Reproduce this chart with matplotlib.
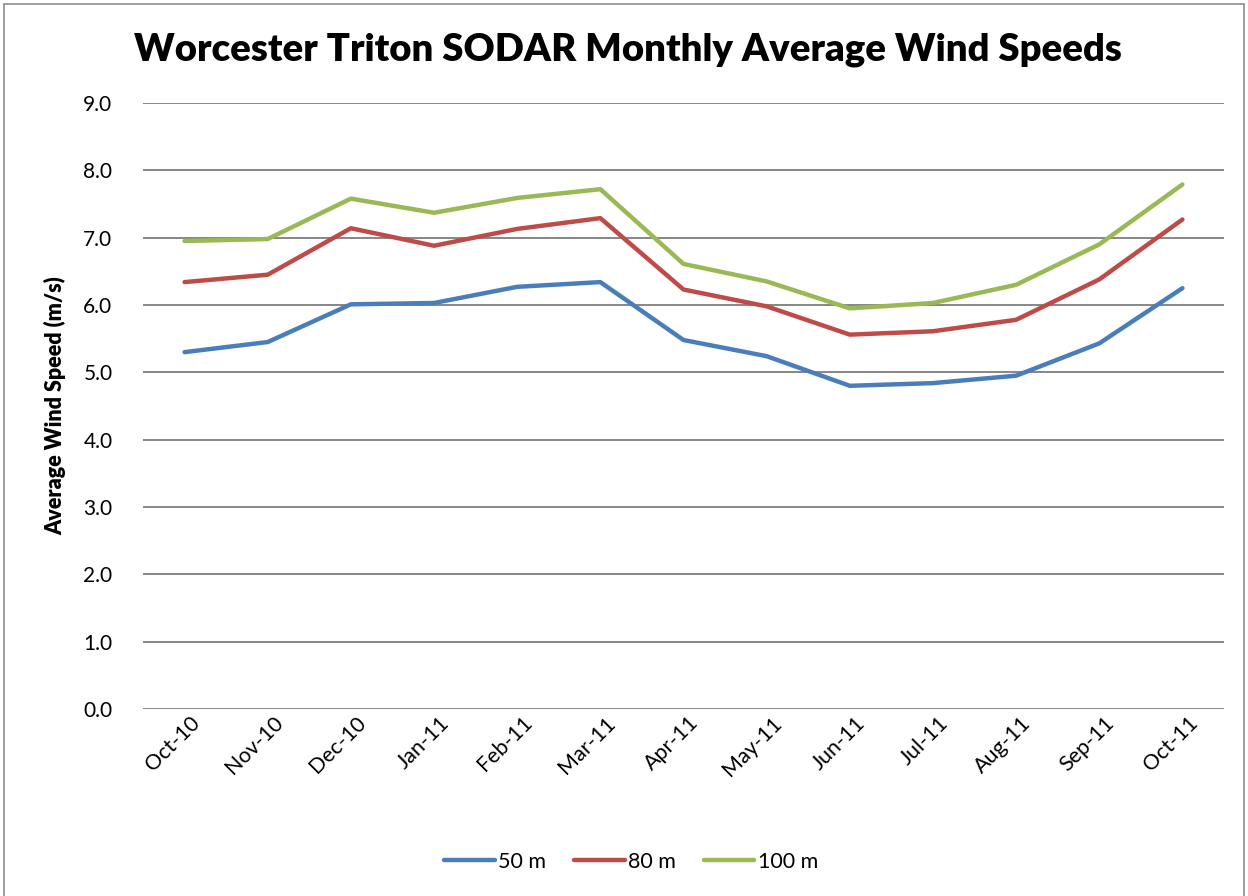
import matplotlib
matplotlib.use("Agg")
import matplotlib.pyplot as plt
from matplotlib.patches import Rectangle
import matplotlib.transforms as mtransforms

months = ["Oct-10", "Nov-10", "Dec-10", "Jan-11", "Feb-11", "Mar-11", "Apr-11",
          "May-11", "Jun-11", "Jul-11", "Aug-11", "Sep-11", "Oct-11"]
speed_50 = [5.30, 5.45, 6.01, 6.03, 6.27, 6.34, 5.48, 5.24, 4.80, 4.84, 4.95, 5.43, 6.25]
speed_80 = [6.34, 6.45, 7.14, 6.88, 7.13, 7.29, 6.23, 5.98, 5.56, 5.61, 5.78, 6.38, 7.27]
speed_100 = [6.95, 6.98, 7.58, 7.37, 7.59, 7.72, 6.61, 6.35, 5.95, 6.03, 6.30, 6.90, 7.79]
series_labels = ["50 m", "80 m", "100 m"]
yticks = [0.0, 1.0, 2.0, 3.0, 4.0, 5.0, 6.0, 7.0, 8.0, 9.0]

plt.rcParams['font.family'] = ['Lato', 'DejaVu Sans']

W, H = 1248, 896
fig = plt.figure(figsize=(W / 100, H / 100), dpi=100)
fig.patch.set_facecolor("white")

# outer chart border
fig.add_artist(Rectangle((4 / W, -0.01), (1244 - 4) / W, 1 - 4 / H + 0.01,
                         transform=fig.transFigure, fill=False,
                         edgecolor="#8c8c8c", linewidth=1.2))

left, right = 143 / W, 1224 / W
top, bottom = 1 - 103 / H, 1 - 709 / H
ax = fig.add_axes([left, bottom, right - left, top - bottom])

colors = ["#4A7EBB", "#BE4B48", "#98B954"]
x = list(range(len(months)))
for vals, lab, c in zip([speed_50, speed_80, speed_100], series_labels, colors):
    ax.plot(x, vals, color=c, lw=3.2, label=lab, solid_capstyle="round",
            solid_joinstyle="round", zorder=3)

ax.set_xlim(-0.5, len(months) - 0.5)
ax.set_ylim(0, 9)
ax.set_yticks(yticks)
ax.set_yticklabels([f"{v:.1f}" for v in yticks], fontsize=15)
ax.yaxis.grid(True, color="#868686", linewidth=1.4)
ax.set_axisbelow(True)
for s in ax.spines.values():
    s.set_visible(False)
ax.tick_params(axis="both", length=0)
ax.tick_params(axis="y", pad=22)

ax.set_xticks(x)
ax.set_xticklabels(months, fontsize=15.5, rotation=45, ha="right",
                   va="center", rotation_mode="anchor")
offset = mtransforms.ScaledTranslation(12 / 100, -6 / 100, fig.dpi_scale_trans)
for lbl in ax.get_xticklabels():
    lbl.set_transform(lbl.get_transform() + offset)

ax.set_ylabel("Average Wind Speed (m/s)", fontsize=15.5, fontweight="heavy", labelpad=12)

fig.text(628 / W, 1 - 50 / H, "Worcester Triton SODAR Monthly Average Wind Speeds",
         ha="center", va="center", fontsize=27.5, fontweight="heavy")

leg = fig.legend(*ax.get_legend_handles_labels(), loc="center",
                 bbox_to_anchor=(631 / W, 1 - 862 / H), ncol=3, frameon=False,
                 fontsize=15.5, handlelength=2.35, handletextpad=0.15, columnspacing=1.3)

fig.savefig("out.png", dpi=100, facecolor="white")
